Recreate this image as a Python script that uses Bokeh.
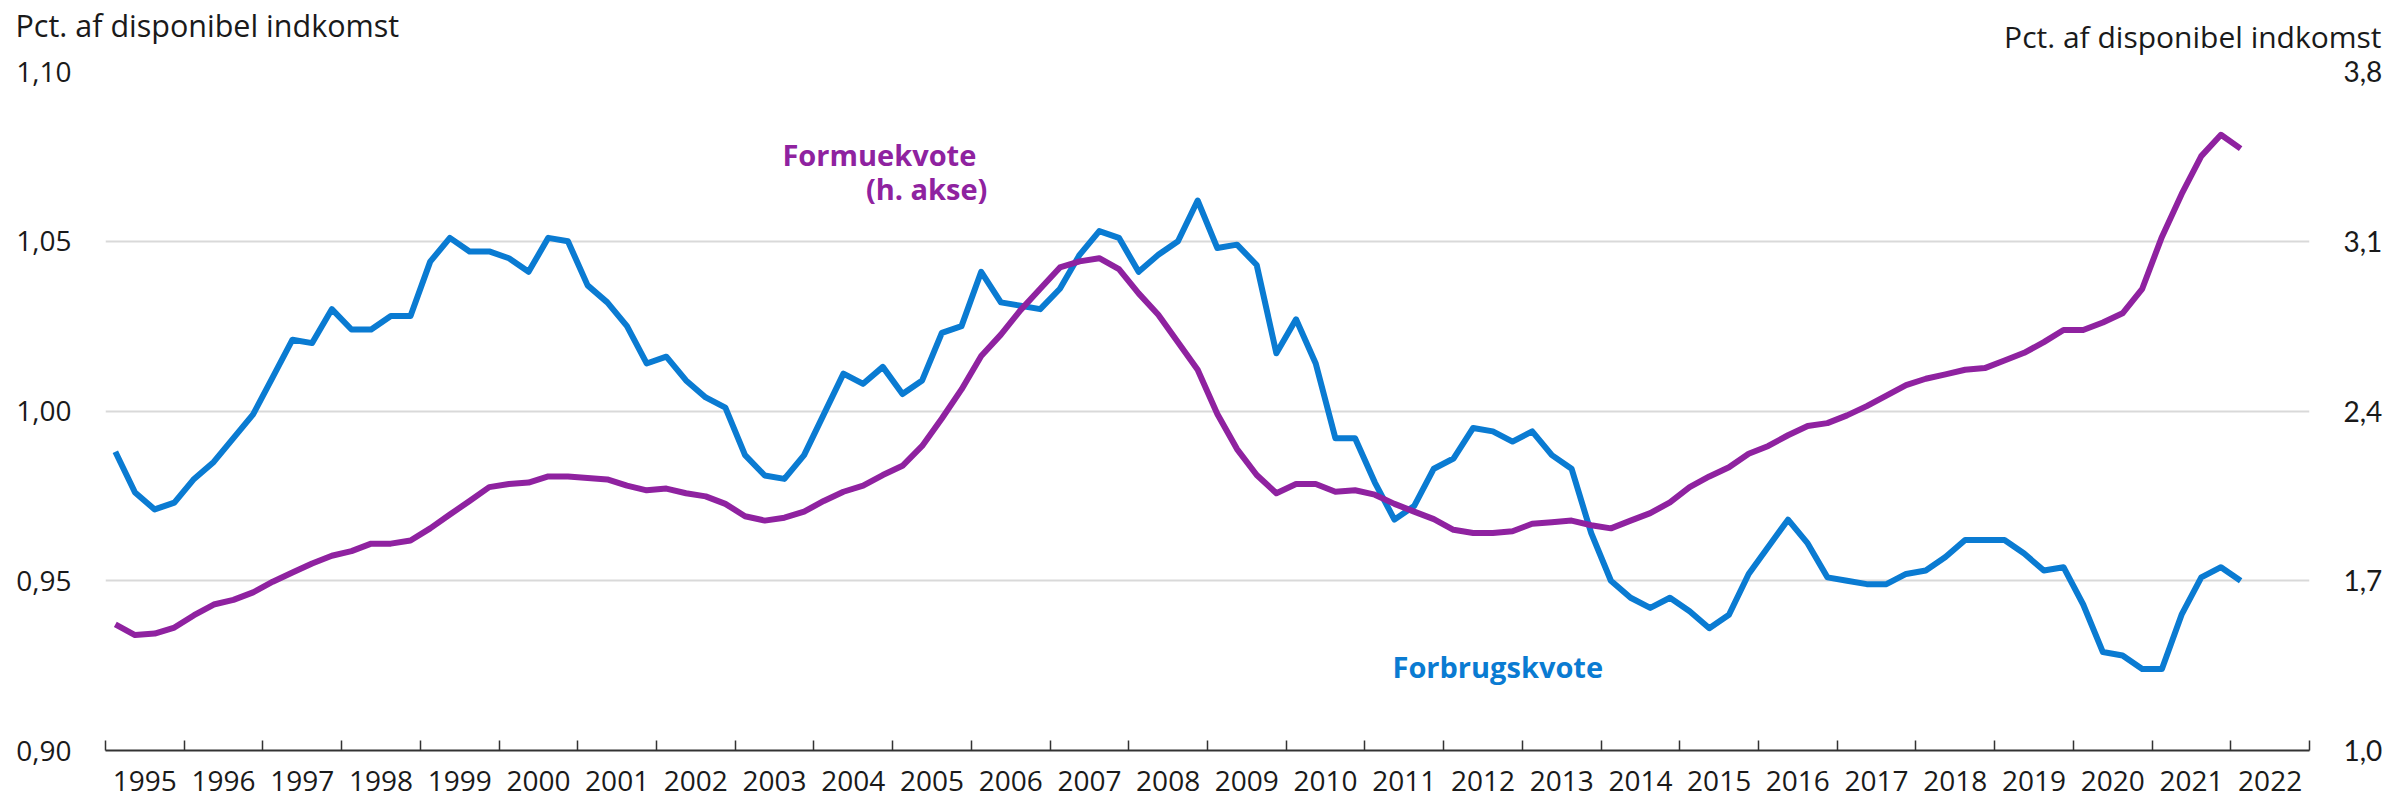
from bokeh.plotting import figure
from bokeh.models import Range1d, LinearAxis, FixedTicker, Label, Title, ColumnDataSource
from bokeh.embed import file_html
from bokeh.resources import INLINE

# Quarterly data 1995Q1 - 2022Q1
start_year = 1995
forbrugskvote = [
    0.988, 0.976, 0.971, 0.973,
    0.980, 0.985, 0.992, 0.999,
    1.010, 1.021, 1.020, 1.030,
    1.024, 1.024, 1.028, 1.028,
    1.044, 1.051, 1.047, 1.047,
    1.045, 1.041, 1.051, 1.050,
    1.037, 1.032, 1.025, 1.014,
    1.016, 1.009, 1.004, 1.001,
    0.987, 0.981, 0.980, 0.987,
    0.999, 1.011, 1.008, 1.013,
    1.005, 1.009, 1.023, 1.025,
    1.041, 1.032, 1.031, 1.030,
    1.036, 1.046, 1.053, 1.051,
    1.041, 1.046, 1.050, 1.062,
    1.048, 1.049, 1.043, 1.017,
    1.027, 1.014, 0.992, 0.992,
    0.979, 0.968, 0.972, 0.983,
    0.986, 0.995, 0.994, 0.991,
    0.994, 0.987, 0.983, 0.964,
    0.950, 0.945, 0.942, 0.945,
    0.941, 0.936, 0.940, 0.952,
    0.960, 0.968, 0.961, 0.951,
    0.950, 0.949, 0.949, 0.952,
    0.953, 0.957, 0.962, 0.962,
    0.962, 0.958, 0.953, 0.954,
    0.943, 0.929, 0.928, 0.924,
    0.924, 0.940, 0.951, 0.954,
    0.950,
]
formuekvote = [
    1.520, 1.476, 1.482, 1.507,
    1.558, 1.602, 1.621, 1.652,
    1.696, 1.734, 1.771, 1.803,
    1.822, 1.853, 1.853, 1.866,
    1.916, 1.973, 2.029, 2.086,
    2.099, 2.105, 2.130, 2.130,
    2.124, 2.118, 2.092, 2.073,
    2.080, 2.061, 2.048, 2.017,
    1.966, 1.948, 1.960, 1.985,
    2.029, 2.067, 2.092, 2.136,
    2.174, 2.256, 2.369, 2.489,
    2.627, 2.715, 2.816, 2.904,
    2.992, 3.017, 3.030, 2.985,
    2.885, 2.797, 2.684, 2.570,
    2.388, 2.243, 2.136, 2.061,
    2.099, 2.099, 2.067, 2.073,
    2.055, 2.017, 1.985, 1.954,
    1.910, 1.897, 1.897, 1.904,
    1.935, 1.941, 1.948, 1.929,
    1.916, 1.948, 1.979, 2.023,
    2.086, 2.130, 2.168, 2.224,
    2.256, 2.300, 2.338, 2.350,
    2.382, 2.420, 2.463, 2.507,
    2.533, 2.551, 2.570, 2.577,
    2.608, 2.640, 2.684, 2.734,
    2.734, 2.765, 2.803, 2.904,
    3.118, 3.294, 3.451, 3.539,
    3.482,
]
years = list(range(1995, 2023))
year_labels = [str(y) for y in years]
left_ticks = [0.90, 0.95, 1.00, 1.05, 1.10]
left_labels = ["0,90", "0,95", "1,00", "1,05", "1,10"]
right_ticks = [1.0, 1.7, 2.4, 3.1, 3.8]
right_labels = ["1,0", "1,7", "2,4", "3,1", "3,8"]
axis_title = "Pct. af disponibel indkomst"

BLUE = "#0a7bd2"
PURPLE = "#8f22a0"
FONT = "Open Sans"
FONT_R = "Lato"
TXT = "#1a1a1a"

xq = [start_year + (i + 0.5) / 4 for i in range(len(forbrugskvote))]
src = ColumnDataSource(dict(x=xq, fk=forbrugskvote, wk=formuekvote))

p = figure(width=2392, height=801, output_backend="svg", toolbar_location=None,
           title=None,
           x_range=Range1d(1995, 2023), y_range=Range1d(0.90, 1.10),
           min_border_left=105, min_border_right=83, min_border_top=71, min_border_bottom=51,
           background_fill_color="white", border_fill_color="white")
p.outline_line_color = None
p.extra_y_ranges = {"right": Range1d(1.0, 3.8)}

# right-hand axis title (label placed in the top panel, positioned in data space)
p.add_layout(Label(x=2023.915, y=1.1103, text=axis_title, text_align="right",
                   text_baseline="alphabetic", text_font=FONT, text_font_size="30px",
                   text_color=TXT), "above")
# left-hand axis title
p.add_layout(Title(text=axis_title, align="left", offset=-90, standoff=-31.6,
                   text_font=FONT, text_font_size="30.5px", text_font_style="normal",
                   text_color=TXT, vertical_align="bottom"), "above")

# grid
p.xgrid.visible = False
p.ygrid.ticker = FixedTicker(ticks=left_ticks)
p.ygrid.grid_line_color = "#d9d9d9"
p.ygrid.grid_line_width = 2

# left axis
p.yaxis.ticker = FixedTicker(ticks=left_ticks)
p.yaxis.major_label_overrides = {t: l for t, l in zip(left_ticks, left_labels)}
p.yaxis.axis_line_color = None
p.yaxis.major_tick_line_color = None
p.yaxis.minor_tick_line_color = None
p.yaxis.major_label_standoff = 28
p.yaxis.major_label_text_font = FONT
p.yaxis.major_label_text_font_size = "28px"
p.yaxis.major_label_text_color = TXT

# right axis
ra = LinearAxis(y_range_name="right", ticker=FixedTicker(ticks=right_ticks))
ra.major_label_overrides = {t: l for t, l in zip(right_ticks, right_labels)}
ra.axis_line_color = None
ra.major_tick_line_color = None
ra.minor_tick_line_color = None
ra.major_label_standoff = 28
ra.major_label_text_font = FONT_R
ra.major_label_text_font_size = "28px"
ra.major_label_text_color = TXT
p.add_layout(ra, "right")

# bottom axis: labels centred in year bands, tick marks at year boundaries
p.xaxis.ticker = FixedTicker(ticks=[y + 0.5 for y in years], minor_ticks=years + [2023])
p.xaxis.major_label_overrides = {y + 0.5: l for y, l in zip(years, year_labels)}
p.xaxis.major_tick_line_color = None
p.xaxis.major_tick_in = 0
p.xaxis.major_tick_out = 0
p.xaxis.minor_tick_in = 10
p.xaxis.minor_tick_out = 0
p.xaxis.minor_tick_line_color = "#333333"
p.xaxis.minor_tick_line_width = 1.5
p.xaxis.axis_line_color = "#333333"
p.xaxis.axis_line_width = 2
p.xaxis.major_label_standoff = 20
p.xaxis.major_label_text_font = FONT
p.xaxis.major_label_text_font_size = "28px"
p.xaxis.major_label_text_color = TXT

# lines
p.line("x", "fk", source=src, line_color=BLUE, line_width=6, line_join="round")
p.line("x", "wk", source=src, y_range_name="right", line_color=PURPLE, line_width=6, line_join="round")

# series labels
def lab(x, y, text, color):
    p.add_layout(Label(x=x, y=y, text=text, text_color=color, text_font=FONT,
                       text_font_size="29px", text_font_style="bold", text_align="left",
                       text_baseline="alphabetic"))

lab(2003.60, 1.0756, "Formuekvote", PURPLE)
lab(2004.66, 1.0656, "(h. akse)", PURPLE)
lab(2011.35, 0.9248, "Forbrugskvote", BLUE)

open("out.html", "w").write(file_html(p, INLINE))
